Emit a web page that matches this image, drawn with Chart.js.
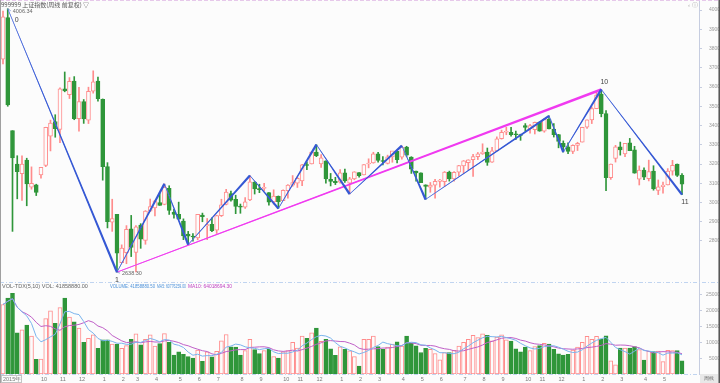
<!DOCTYPE html>
<html><head><meta charset="utf-8">
<script src="https://cdn.jsdelivr.net/npm/chart.js@4.4.1/dist/chart.umd.min.js"></script>
<style>
html,body{margin:0;padding:0;background:#fcfcfc;}
#wrap{position:relative;width:720px;height:383px;overflow:hidden;background:#fcfcfc;}
#pc{position:absolute;left:0;top:0;}
#vc{position:absolute;left:0;top:282px;}
</style></head><body>
<div id="wrap"><canvas id="pc" width="720" height="282"></canvas><canvas id="vc" width="720" height="101"></canvas></div>
<script>
// ---------------- DATA ----------------
const weeks = [
'15-08-10','15-08-17','15-08-24','15-08-31','15-09-07','15-09-14','15-09-21','15-09-28','15-10-08','15-10-12','15-10-19','15-10-26','15-11-02','15-11-09','15-11-16','15-11-23','15-11-30','15-12-07','15-12-14','15-12-21','15-12-28',
'16-01-04','16-01-11','16-01-18','16-01-25','16-02-01','16-02-15','16-02-22','16-02-29','16-03-07','16-03-14','16-03-21','16-03-28','16-04-05','16-04-11','16-04-18','16-04-25','16-05-03','16-05-09','16-05-16','16-05-23','16-05-30','16-06-06','16-06-13','16-06-20','16-06-27','16-07-04','16-07-11','16-07-18','16-07-25','16-08-01','16-08-08','16-08-15','16-08-22','16-08-29','16-09-05','16-09-12','16-09-19','16-09-26','16-10-10','16-10-17','16-10-24','16-10-31','16-11-07','16-11-14','16-11-21','16-11-28','16-12-05','16-12-12','16-12-19','16-12-26',
'17-01-03','17-01-09','17-01-16','17-01-23','17-02-03','17-02-06','17-02-13','17-02-20','17-02-27','17-03-06','17-03-13','17-03-20','17-03-27','17-04-05','17-04-10','17-04-17','17-04-24','17-05-02','17-05-08','17-05-15','17-05-22','17-05-31','17-06-05','17-06-12','17-06-19','17-06-26','17-07-03','17-07-10','17-07-17','17-07-24','17-07-31','17-08-07','17-08-14','17-08-21','17-08-28','17-09-04','17-09-11','17-09-18','17-09-25','17-10-09','17-10-16','17-10-23','17-10-30','17-11-06','17-11-13','17-11-20','17-11-27','17-12-04','17-12-11','17-12-18','17-12-25',
'18-01-02','18-01-08','18-01-15','18-01-22','18-01-29','18-02-05','18-02-12','18-02-22','18-02-26','18-03-05','18-03-12','18-03-19','18-03-26','18-04-02','18-04-09','18-04-16','18-04-23','18-05-02','18-05-07','18-05-14','18-05-21','18-05-28'];

const openP = [
3744,3960,3373,3200,3150,3220,3080,3092,3143,3193,3345,3421,3379,3590,3560,3631,3436,3524,3428,3578,3631,
3536,3186,2898,2938,2688,2740,2863,2741,2883,2803,2955,2972,3000,2990,3074,2950,2939,2904,2836,2825,2816,2935,2879,2887,2856,2931,2990,3046,3017,2979,2976,3013,3106,3070,3073,3052,3003,3032,3010,3061,3090,3100,3112,3196,3200,3262,3200,3216,3120,3110,
3105,3154,3101,3123,3155,3143,3200,3205,3253,3216,3203,3237,3266,3235,3288,3236,3163,3154,3092,3080,3090,3110,3108,3158,3122,3157,3190,3207,3223,3238,3253,3262,3209,3268,3331,3365,3365,3353,3352,3400,3384,3378,3416,3371,3432,3382,3353,3308,3289,3266,3297,
3314,3391,3429,3488,3563,3462,3129,3229,3289,3253,3310,3274,3121,3169,3124,3163,3063,3082,3091,3163,3199,3141];
const highP = [
3994,4006.34,3373,3243,3243,3230,3185,3095,3183,3391,3428,3456,3596,3678,3649,3654,3598,3535,3599,3684,3651,
3538,3207,3017,2939,2780,2880,2933,2880,2890,2958,3018,3010,3050,3097,3087,2964,3002,2915,2850,2839,2938,2945,2917,2921,2934,3017,3069,3059,3038,2992,3025,3140,3109,3095,3100,3052,3066,3034,3066,3093,3140,3133,3198,3211,3266,3301,3249,3217,3151,3131,
3171,3174,3131,3160,3156,3197,3227,3261,3260,3238,3246,3264,3267,3295,3292,3238,3163,3154,3092,3104,3120,3121,3161,3163,3160,3193,3218,3222,3250,3260,3305,3283,3286,3341,3376,3391,3390,3371,3355,3410,3406,3418,3420,3436,3450,3410,3354,3320,3310,3300,3313,
3391,3430,3497,3572,3587.03,3478,3200,3297,3314,3307,3333,3292,3190,3180,3220,3191,3117,3106,3176,3219,3200,3150];
const lowP = [
3720,3500,2850,3019,3011,2983,3069,3036,3127,3186,3268,3339,3311,3575,3540,3430,3371,3411,3410,3568,3527,
3116,2868,2850,2638.30,2687,2682,2719,2639,2762,2783,2953,2930,2985,2988,2938,2919,2912,2807,2781,2799,2806,2900,2807,2849,2839,2927,2988,3007,2942,2944,2969,3010,3044,3051,3060,2986,2992,2969,3010,3023,3084,3078,3088,3170,3200,3238,3182,3100,3086,3093,
3100,3104,3044,3118,3132,3143,3180,3204,3209,3195,3200,3209,3205,3225,3239,3151,3111,3103,3016,3053,3022,3080,3083,3111,3111,3138,3151,3170,3135,3223,3250,3193,3208,3268,3329,3352,3344,3327,3323,3370,3360,3356,3370,3365,3382,3340,3284,3262,3254,3254,3270,
3314,3385,3410,3487,3445,3062,3120,3210,3246,3238,3269,3152,3091,3118,3112,3064,3041,3049,3091,3142,3135,3041];
const closeP = [
3965,3507,3232,3160,3200,3097,3100,3053,3183,3391,3412,3383,3590,3580,3630,3436,3524,3434,3578,3627,3539,
3186,2900,2916,2737,2763,2860,2767,2874,2810,2955,2979,3009,2985,3079,2959,2938,2913,2827,2825,2821,2938,2927,2885,2854,2932,2988,3054,3012,2979,2976,3004,3108,3070,3067,3078,3002,3033,3004,3063,3090,3104,3125,3196,3192,3262,3243,3232,3122,3110,3103,
3154,3112,3123,3159,3140,3197,3202,3253,3218,3213,3237,3269,3223,3286,3246,3173,3154,3103,3083,3090,3110,3117,3158,3123,3157,3192,3217,3222,3238,3253,3262,3208,3268,3331,3365,3366,3353,3352,3348,3390,3400,3416,3371,3432,3382,3353,3317,3289,3266,3297,3307,
3391,3429,3488,3558,3462,3129,3199,3289,3273,3307,3269,3152,3169,3131,3160,3071,3082,3091,3163,3193,3141,3095];
const volume = [
22000,24000,25500,13000,14000,15500,12000,4660,4700,17500,20000,16000,21000,24000,18000,16500,14500,10000,11300,12400,8100,
10800,10800,9500,9500,8100,9000,11000,12700,9200,11000,12400,8800,9600,12800,10000,6000,7000,6200,5500,5000,7600,4000,7000,5400,7200,10500,12500,8600,8500,6000,7400,11000,7700,6500,7400,8000,5500,5000,7000,7400,10000,8200,12000,11300,13000,14500,10300,11000,8000,5900,
8600,7800,7300,5500,2500,11000,11000,12000,8700,7800,8500,9500,10200,8800,12000,9700,8900,6800,8100,7800,6500,4500,6800,6800,7500,8800,10000,11000,12200,11500,12700,12200,10500,11700,12400,10800,10400,8000,7000,8500,7400,8700,9000,9700,9500,7800,6400,6000,6200,7600,8500,
10000,11900,11000,11900,11050,12100,4140,2870,8170,8170,8170,8700,7700,4400,7200,7100,7231,3930,7500,7400,7372,4186];

const priceTicks = [2800,2900,3000,3100,3200,3300,3400,3500,3600,3700,3800,3900,4000];
const volTicks = [5000,10000,15000,20000,25000];
const axisLabelIdx  = [0,8,12,16,21,25,28,32,37,41,45,50,54,59,62,66,71,75,79,84,88,92,97,101,105,110,113,117,122,126,130,135,139];
const axisLabelText = ['2015年','10','11','12','1','2','3','4','5','6','7','8','9','10','11','12','1','2','3','4','5','6','7','8','9','10','11','12','1','2','3','4','5'];
const waveIdx = [1,24,34,39,52,58,66,73,84,89,115,118,126,143];
const waveVal = [4006.34,2638.30,3097,2781,3140,2969,3301,3044,3295,3016,3450,3262,3587.03,3041];
const trendIdx = [24,126];
const trendVal = [2638.30,3587.03];
const waveLabelIdx = [1,24,126,143];
const waveLabelText = ['0','1','10','11'];
const priceTagIdx = [1,24];
const priceTagText = ['4006.34','2638.30'];
const titleText = '999999 上证指数(周线 前复权) ▽';
const volHeader = [['VOL-TDX(5,10) VOL: 41858880.00','#666'],['VOLUME: 41858880.50','#4a90d9'],['MA5: 60776259.00','#4a90d9'],['MA10: 64018694.30','#c040c0']];

// ---------------- STYLE ----------------
const UP='#ff8c8c', DOWN='#2f963a', BG='#fcfcfc';
const PLOT_R=699, X0=3, XN=682;
const pxPer=(XN-X0)/(weeks.length-1);
const XMIN=-X0/pxPer, XMAX=XMIN+PLOT_R/pxPer;
const PY4000=10, PPX=(241-10)/1200;
const YMAX=4000+PY4000/PPX, YMIN=4000-(282-PY4000)/PPX;
const VMAX=92/(79/25000);
const FONT='"Liberation Sans", Arial, sans-serif';
const idx = weeks.map((w,i)=>i);
const isUp = idx.map(i=>closeP[i]>=openP[i]);

// moving averages of the volume series (partial window at the very start)
const ma = n => volume.map((v,i)=>{ const s=volume.slice(Math.max(0,i-n+1),i+1); return s.reduce((a,b)=>a+b,0)/s.length; });

// tapered overlay on the line datasets (thin at start, thick at end of each segment)
function taper(ctx, pts, color, w0, w1){
  ctx.fillStyle=color;
  for(let k=0;k<pts.length-1;k++){
    const a=pts[k], b=pts[k+1];
    const dx=b.x-a.x, dy=b.y-a.y, L=Math.hypot(dx,dy)||1;
    const nx=-dy/L, ny=dx/L;
    ctx.beginPath();
    ctx.moveTo(a.x+nx*w0/2, a.y+ny*w0/2);
    ctx.lineTo(b.x+nx*w1/2, b.y+ny*w1/2);
    ctx.lineTo(b.x-nx*w1/2, b.y-ny*w1/2);
    ctx.lineTo(a.x-nx*w0/2, a.y-ny*w0/2);
    ctx.closePath(); ctx.fill();
  }
}

const priceOverlay = {
  id:'priceOverlay',
  beforeDraw(c){
    const ctx=c.ctx; ctx.save();
    ctx.fillStyle=BG; ctx.fillRect(0,0,c.width,c.height);
    ctx.restore();
  },
  afterDatasetsDraw(c){
    const ctx=c.ctx; ctx.save();
    ctx.beginPath(); ctx.rect(c.chartArea.left,c.chartArea.top,c.chartArea.width,c.chartArea.height); ctx.clip();
    taper(ctx, c.getDatasetMeta(1).data.map(p=>({x:p.x,y:p.y})), '#f03af0', 0.6, 2.6);
    taper(ctx, c.getDatasetMeta(0).data.map(p=>({x:p.x,y:p.y})), '#3558d4', 0.4, 2.4);
    ctx.restore();
  },
  afterDraw(c){
    const ctx=c.ctx, xs=c.scales.x, ys=c.scales.y;
    ctx.save();
    ctx.strokeStyle='#e6c8ea'; ctx.lineWidth=1; ctx.setLineDash([4,2]);
    ctx.beginPath(); ctx.moveTo(0,0.5); ctx.lineTo(720,0.5); ctx.stroke();
    ctx.setLineDash([]);
    ctx.strokeStyle='#a0a0a0'; ctx.beginPath(); ctx.moveTo(0.5,0); ctx.lineTo(0.5,282); ctx.stroke();
    ctx.strokeStyle='#505050'; ctx.lineWidth=1.5; ctx.beginPath(); ctx.moveTo(719.2,0); ctx.lineTo(719.2,282); ctx.stroke();
    ctx.fillStyle='#555'; ctx.font='6px "Noto Sans CJK SC", sans-serif'; ctx.textBaseline='middle'; ctx.textAlign='left';
    ctx.fillText(titleText,1,5);
    ctx.fillStyle='#aaa'; ctx.font='6px '+FONT; ctx.fillText('‹ ⓘ',688,5);
    ctx.fillStyle='#444'; ctx.font='7px '+FONT; ctx.textAlign='center';
    const off=[[9,11],[0,8],[3,-7],[3,7]];
    waveLabelIdx.forEach((wi,k)=>{
      const j=waveIdx.indexOf(wi);
      const x=xs.getPixelForValue(wi), y=ys.getPixelForValue(waveVal[j]);
      ctx.fillText(waveLabelText[k], x+off[k][0], y+off[k][1]);
    });
    ctx.font='5.5px '+FONT; ctx.textAlign='left'; ctx.fillStyle='#666';
    priceTagIdx.forEach((pi,k)=>{
      const x=xs.getPixelForValue(pi);
      const v = k===0? highP[pi] : lowP[pi];
      const y=ys.getPixelForValue(v);
      ctx.strokeStyle='#7a8ad0'; ctx.lineWidth=0.8; ctx.beginPath();
      ctx.moveTo(x,y); ctx.lineTo(x+3, y+(k===0?2:1)); ctx.stroke();
      ctx.fillText(priceTagText[k], x+5, y+(k===0?3:1));
    });
    ctx.restore();
  }
};

new Chart(document.getElementById('pc'),{
  type:'bar',
  data:{datasets:[
    {type:'line', data:waveIdx.map((x,k)=>({x,y:waveVal[k]})), borderColor:'#8aa0ec', borderWidth:0.9, pointRadius:0, order:0},
    {type:'line', data:trendIdx.map((x,k)=>({x,y:trendVal[k]})), borderColor:'#f070f0', borderWidth:0.9, pointRadius:0, order:1},
    {type:'bar', data:idx.map(i=>({x:i,y:[openP[i],closeP[i]]})), backgroundColor:idx.map(i=>isUp[i]?BG:DOWN), borderColor:idx.map(i=>isUp[i]?UP:DOWN), borderWidth:1, borderSkipped:false, barThickness:4, minBarLength:1, grouped:false, order:2},
    {type:'bar', data:idx.map(i=>({x:i,y:[lowP[i],highP[i]]})), backgroundColor:idx.map(i=>isUp[i]?UP:DOWN), barThickness:1, grouped:false, order:3}
  ]},
  options:{
    responsive:false, animation:false, events:[], layout:{padding:0},
    plugins:{legend:{display:false}, tooltip:{enabled:false}},
    scales:{
      x:{type:'linear', display:false, offset:false, min:XMIN, max:XMAX},
      y:{position:'right', min:YMIN, max:YMAX,
         afterBuildTicks(s){ s.ticks=priceTicks.map(v=>({value:v})); },
         afterFit(s){ s.width=720-PLOT_R; s.paddingTop=0; s.paddingBottom=0; },
         ticks:{font:{size:5,family:FONT}, color:'#9a9a9a', crossAlign:'far', padding:1, autoSkip:false, callback:v=>String(v)},
         grid:{drawOnChartArea:false, tickLength:3, color:'#c6cde0'},
         border:{color:'#c6cde0', dash:[3,2]}}
    }
  },
  plugins:[priceOverlay]
});

const volOverlay = {
  id:'volOverlay',
  beforeDraw(c){ const ctx=c.ctx; ctx.save(); ctx.fillStyle=BG; ctx.fillRect(0,0,c.width,c.height); ctx.restore(); },
  afterDraw(c){
    const ctx=c.ctx; ctx.save();
    ctx.strokeStyle='#c0d4f0'; ctx.lineWidth=1; ctx.setLineDash([4,2,1,2]);
    ctx.beginPath(); ctx.moveTo(0,0.5); ctx.lineTo(720,0.5); ctx.stroke();
    ctx.beginPath(); ctx.moveTo(0,92.5); ctx.lineTo(PLOT_R,92.5); ctx.stroke();
    ctx.setLineDash([]);
    ctx.strokeStyle='#a0a0a0'; ctx.beginPath(); ctx.moveTo(0.5,0); ctx.lineTo(0.5,101); ctx.stroke();
    ctx.strokeStyle='#505050'; ctx.lineWidth=1.5; ctx.beginPath(); ctx.moveTo(719.2,0); ctx.lineTo(719.2,101); ctx.stroke();
    ctx.font='5.5px '+FONT; ctx.textBaseline='middle'; ctx.textAlign='left';
    const hx=[2,110,157,188], hw=[95,45,29,44];
    volHeader.forEach((h,k)=>{ ctx.fillStyle=h[1]; ctx.fillText(h[0], hx[k], 4, hw[k]); });
    ctx.strokeStyle='#c4c4c4'; ctx.lineWidth=1; ctx.strokeRect(1.5,93.5,20,7);
    ctx.fillStyle='#e8e8e8'; ctx.fillRect(700,92,18,9);
    ctx.fillStyle='#666'; ctx.font='5px '+FONT; ctx.fillText('周线',704,97);
    ctx.restore();
  }
};

new Chart(document.getElementById('vc'),{
  type:'bar',
  data:{datasets:[
    {type:'line', data:idx.map(i=>({x:i,y:ma(5)[i]})), borderColor:'#7ab4ee', borderWidth:1, pointRadius:0, order:0},
    {type:'line', data:idx.map(i=>({x:i,y:ma(10)[i]})), borderColor:'#c060c8', borderWidth:1, pointRadius:0, order:1},
    {type:'bar', data:idx.map(i=>({x:i,y:volume[i]})), backgroundColor:idx.map(i=>isUp[i]?BG:DOWN), borderColor:idx.map(i=>isUp[i]?UP:DOWN), borderWidth:1, borderSkipped:false, barThickness:4, grouped:false, order:2}
  ]},
  options:{
    responsive:false, animation:false, events:[], layout:{padding:0},
    plugins:{legend:{display:false}, tooltip:{enabled:false}},
    scales:{
      x:{type:'linear', offset:false, min:XMIN, max:XMAX,
         afterBuildTicks(s){ s.ticks=axisLabelIdx.map(v=>({value:v})); },
         afterFit(s){ s.height=9; s.paddingLeft=0; s.paddingRight=0; },
         ticks:{font:{size:5.5,family:FONT}, color:'#7a7a7a', align:'start', maxRotation:0, autoSkip:false, padding:2,
                callback:(v)=>{ const k=axisLabelIdx.indexOf(v); return k>=0?axisLabelText[k]:''; }},
         grid:{display:false, drawTicks:false, tickLength:0}, border:{display:false}},
      y:{position:'right', min:0, max:VMAX,
         afterBuildTicks(s){ s.ticks=volTicks.map(v=>({value:v})); },
         afterFit(s){ s.width=720-PLOT_R; s.paddingTop=0; s.paddingBottom=0; },
         ticks:{font:{size:5,family:FONT}, color:'#9a9a9a', crossAlign:'far', padding:1, autoSkip:false, callback:v=>String(v)},
         grid:{drawOnChartArea:false, tickLength:3, color:'#c6cde0'},
         border:{color:'#c6cde0', dash:[3,2]}}
    }
  },
  plugins:[volOverlay]
});
</script></body></html>
